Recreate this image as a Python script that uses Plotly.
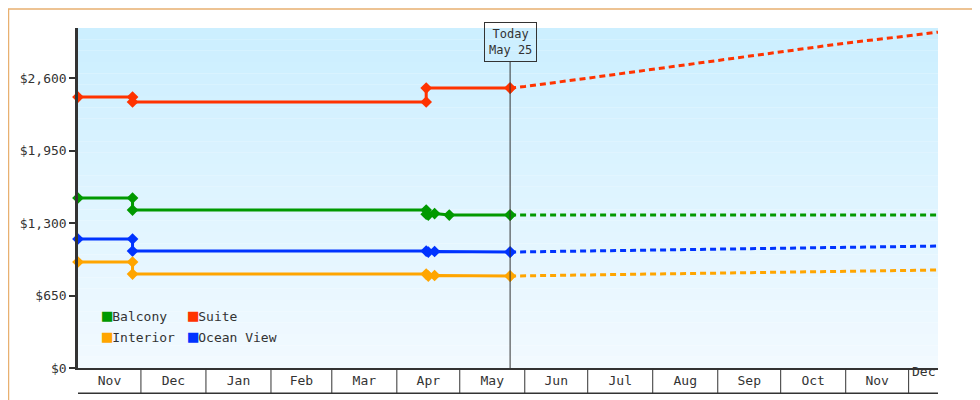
import plotly.graph_objects as go

# past fare history (step changes), shown as before/after pairs
balcony_dates = ["2023-11-01", "2023-11-27", "2023-11-27", "2024-04-15", "2024-04-15", "2024-04-16", "2024-04-19", "2024-04-26", "2024-05-25"]
balcony_vals = [1525, 1525, 1417, 1417, 1380, 1372, 1385, 1372, 1372]
suite_dates = ["2023-11-01", "2023-11-27", "2023-11-27", "2024-04-15", "2024-04-15", "2024-05-25"]
suite_vals = [2430, 2430, 2386, 2386, 2511, 2511]
ocean_dates = ["2023-11-01", "2023-11-27", "2023-11-27", "2024-04-15", "2024-04-16", "2024-04-19", "2024-05-25"]
ocean_vals = [1157, 1157, 1049, 1049, 1040, 1045, 1040]
interior_dates = ["2023-11-01", "2023-11-27", "2023-11-27", "2024-04-15", "2024-04-16", "2024-04-19", "2024-05-25"]
interior_vals = [951, 951, 843, 843, 825, 830, 825]

# projected fares
future_dates = ["2024-05-25", "2024-06-01", "2024-07-01", "2024-08-01", "2024-09-01", "2024-10-01", "2024-11-01", "2024-12-01", "2024-12-15"]
suite_future = [2511, 2525, 2600, 2680, 2760, 2840, 2915, 2980, 3013]
balcony_future = [1372, 1372, 1372, 1372, 1372, 1372, 1372, 1372, 1372]
ocean_future = [1040, 1042, 1050, 1058, 1066, 1074, 1082, 1090, 1094]
interior_future = [825, 827, 835, 843, 851, 859, 867, 875, 879]

month_starts = ["2023-11-01", "2023-12-01", "2024-01-01", "2024-02-01", "2024-03-01", "2024-04-01", "2024-05-01",
                "2024-06-01", "2024-07-01", "2024-08-01", "2024-09-01", "2024-10-01", "2024-11-01", "2024-12-01", "2024-12-15"]
y_ticks = [0, 650, 1300, 1950, 2600]
y_labels = ["$0", "$650", "$1,300", "$1,950", "$2,600"]

GREEN, RED, ORANGE, BLUE = "#009900", "#FF3300", "#FFA500", "#0033FF"
FONT = "DejaVu Sans Mono"

fig = go.Figure()
for d, v, c in [(suite_dates, suite_vals, RED), (balcony_dates, balcony_vals, GREEN),
                (ocean_dates, ocean_vals, BLUE), (interior_dates, interior_vals, ORANGE)]:
    fig.add_trace(go.Scatter(x=d, y=v, mode="lines+markers", line=dict(color=c, width=3),
                             marker=dict(symbol="diamond", size=9, color=c), showlegend=False, cliponaxis=False))
for v, c in [(suite_future, RED), (balcony_future, GREEN), (ocean_future, BLUE), (interior_future, ORANGE)]:
    fig.add_trace(go.Scatter(x=future_dates, y=v, mode="lines", line=dict(color=c, width=3, dash="6px,4px"),
                             showlegend=False))
# today marker
fig.add_trace(go.Scatter(x=["2024-05-25"] * 4, y=[2511, 1372, 1040, 825], mode="markers",
                         marker=dict(symbol="diamond", size=9, color=[RED, GREEN, BLUE, ORANGE]), showlegend=False))

shapes = []
# gradient background
n = 30
for i in range(n):
    t = i / (n - 1)
    r = int(0xCC + (0xF2 - 0xCC) * (1 - t))
    g = int(0xEF + (0xFA - 0xEF) * (1 - t))
    shapes.append(dict(type="rect", xref="paper", yref="paper", x0=0, x1=1, y0=i / n, y1=(i + 1) / n,
                       fillcolor=f"rgb({r},{g},255)", line_width=0, layer="below"))
# month cells below axis
for m in month_starts[1:-1]:
    shapes.append(dict(type="line", xref="x", yref="paper", x0=m, x1=m, y0=0, y1=-0.074,
                       line=dict(color="#333", width=1)))
shapes.append(dict(type="line", xref="paper", yref="paper", x0=0, x1=1, y0=-0.074, y1=-0.074,
                   line=dict(color="#333", width=1.5)))
# today line
shapes.append(dict(type="line", xref="x", yref="paper", x0="2024-05-25", x1="2024-05-25", y0=0, y1=0.9,
                   line=dict(color="#333", width=1)))
# outer border
shapes.append(dict(type="rect", xref="paper", yref="paper", x0=-69.5 / 860, x1=1 + 49 / 860, y0=-39.5 / 340, y1=1 + 19 / 340,
                   line=dict(color="#E8B070", width=1.5)))

legend_items = [("Balcony", GREEN, 0.025, 0.12), ("Suite", RED, 0.125, 0.12),
                ("Interior", ORANGE, 0.025, 0.06), ("Ocean View", BLUE, 0.125, 0.06)]
annotations = [
    dict(x="2024-05-25", y=0.9, xref="x", yref="paper", yanchor="bottom", text="Today<br>May 25", showarrow=False,
         bordercolor="#333", borderwidth=1, borderpad=4, font=dict(family=FONT, size=12, color="#333")),
    dict(x="2024-12-08", y=-0.037, xref="x", yref="paper", text="Dec", showarrow=False,
         font=dict(family=FONT, size=13, color="#333")),
]
for name, c, lx, ly in legend_items:
    annotations.append(dict(x=lx, y=ly, xref="paper", yref="paper", xanchor="left", showarrow=False,
                            text=f"<span style='color:{c};font-size:17px'>■</span>{name}",
                            font=dict(family=FONT, size=13, color="#333")))

fig.update_layout(
    width=980, height=400, margin=dict(l=70, r=50, t=20, b=40),
    paper_bgcolor="white", plot_bgcolor="rgba(0,0,0,0)",
    font=dict(family=FONT, size=12, color="#333"),
    shapes=shapes, annotations=annotations,
    xaxis=dict(type="date", range=["2023-11-01", "2024-12-15"], showgrid=False, zeroline=False, automargin=False,
               dtick="M1", tick0="2023-11-01", tickformat="%b", ticklabelmode="period", ticks="",
               showline=True, linecolor="#333", linewidth=1.5, tickfont=dict(size=13)),
    yaxis=dict(range=[0, 3050], tickvals=y_ticks, ticktext=y_labels, showgrid=False, zeroline=False, automargin=False,
               ticks="outside", ticklen=6, tickwidth=2, tickcolor="#333",
               showline=True, linecolor="#333", linewidth=2.5, tickfont=dict(size=13)),
)

fig.write_html("out.html")
